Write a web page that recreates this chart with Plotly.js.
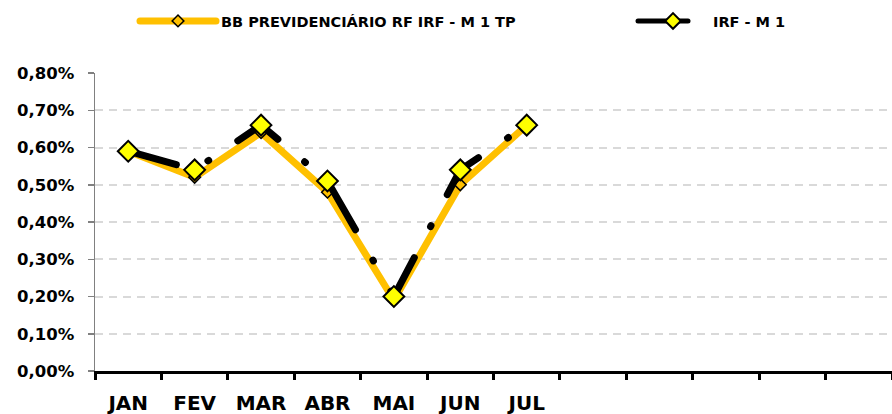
<!DOCTYPE html>
<html>
<head>
<meta charset="utf-8">
<script src="https://cdn.plot.ly/plotly-3.0.1.min.js"></script>
<style>
  html, body { margin: 0; padding: 0; background: #fff; }
  #chart { width: 892px; height: 414px; }
  .js-line { stroke-linecap: round; stroke-linejoin: round; }
</style>
</head>
<body>
<div id="chart"></div>
<script>
// Categories shown on the axis (12 monthly slots, only 7 with data)
const months = ["JAN", "FEV", "MAR", "ABR", "MAI", "JUN", "JUL"];
const axisCategories = ["JAN", "FEV", "MAR", "ABR", "MAI", "JUN", "JUL", "AGO", "SET", "OUT", "NOV", "DEZ"];
const axisLabels = ["JAN", "FEV", "MAR", "ABR", "MAI", "JUN", "JUL", "", "", "", "", ""];

// Series values (percent)
const seriesFundoName = "BB PREVIDENCIÁRIO RF IRF - M 1 TP";
const seriesFundo = [0.59, 0.52, 0.64, 0.48, 0.19, 0.50, 0.66];
const seriesIndiceName = "IRF - M 1";
const seriesIndice = [0.59, 0.54, 0.66, 0.51, 0.20, 0.54, 0.66];

const yTicks = [0, 0.1, 0.2, 0.3, 0.4, 0.5, 0.6, 0.7, 0.8];
const yTickText = yTicks.map(v => v.toFixed(2).replace(".", ",") + "%");

const FONT = "DejaVu Sans";

const traces = [
  {
    type: "scatter", mode: "lines+markers",
    name: seriesFundoName,
    x: months, y: seriesFundo,
    line: { color: "#FFC000", width: 7 },
    marker: { symbol: "diamond", size: 9, color: "#FFC000", line: { color: "#000000", width: 1.5 } },
    legend: "legend",
    hoverinfo: "skip"
  },
  {
    type: "scatter", mode: "lines+markers",
    name: seriesIndiceName,
    x: months, y: seriesIndice,
    line: { color: "#000000", width: 7, dash: "50px,35px,1px,35px" },
    marker: { symbol: "diamond", size: 16, color: "#FFFF00", line: { color: "#000000", width: 2 } },
    legend: "legend2",
    hoverinfo: "skip"
  }
];

const layout = {
  width: 892, height: 414,
  margin: { l: 95, r: 0, t: 73, b: 43 },
  paper_bgcolor: "#ffffff", plot_bgcolor: "#ffffff",
  font: { family: FONT, color: "#000000" },
  showlegend: true,
  legend: {
    orientation: "h", xref: "container", yref: "container",
    x: 135 / 892, y: 1 - 21 / 414, xanchor: "left", yanchor: "middle",
    itemwidth: 76, itemsizing: "trace",
    font: { family: FONT, size: 14.5, color: "#000000", weight: "bold" },
    bgcolor: "rgba(0,0,0,0)"
  },
  legend2: {
    orientation: "h", xref: "container", yref: "container",
    x: 633 / 892, y: 1 - 21 / 414, xanchor: "left", yanchor: "middle",
    itemwidth: 70, itemsizing: "constant",
    font: { family: FONT, size: 14.5, color: "#000000", weight: "bold" },
    bgcolor: "rgba(0,0,0,0)"
  },
  xaxis: {
    type: "category",
    categoryorder: "array", categoryarray: axisCategories,
    tickmode: "array", tickvals: axisCategories, ticktext: axisLabels,
    range: [-0.5, 11.5],
    tickson: "boundaries",
    showline: true, linecolor: "#000000", linewidth: 3,
    ticks: "outside", ticklen: 6, tickwidth: 3, tickcolor: "#000000",
    showgrid: false, zeroline: false,
    ticklabelstandoff: 12,
    tickfont: { family: FONT, size: 20, color: "#000000", weight: "bold" }
  },
  yaxis: {
    range: [0, 0.8],
    tickmode: "array", tickvals: yTicks, ticktext: yTickText,
    showline: true, linecolor: "#808080", linewidth: 1.5,
    ticks: "outside", ticklen: 6, tickwidth: 1.5, tickcolor: "#808080",
    showgrid: true, gridcolor: "#D9D9D9", gridwidth: 2, griddash: "8px,6px",
    zeroline: false,
    ticklabelstandoff: 10,
    tickfont: { family: FONT, size: 16.5, color: "#000000", weight: "bold" }
  }
};

Plotly.newPlot("chart", traces, layout, { displayModeBar: false, staticPlot: true });
</script>
</body>
</html>
